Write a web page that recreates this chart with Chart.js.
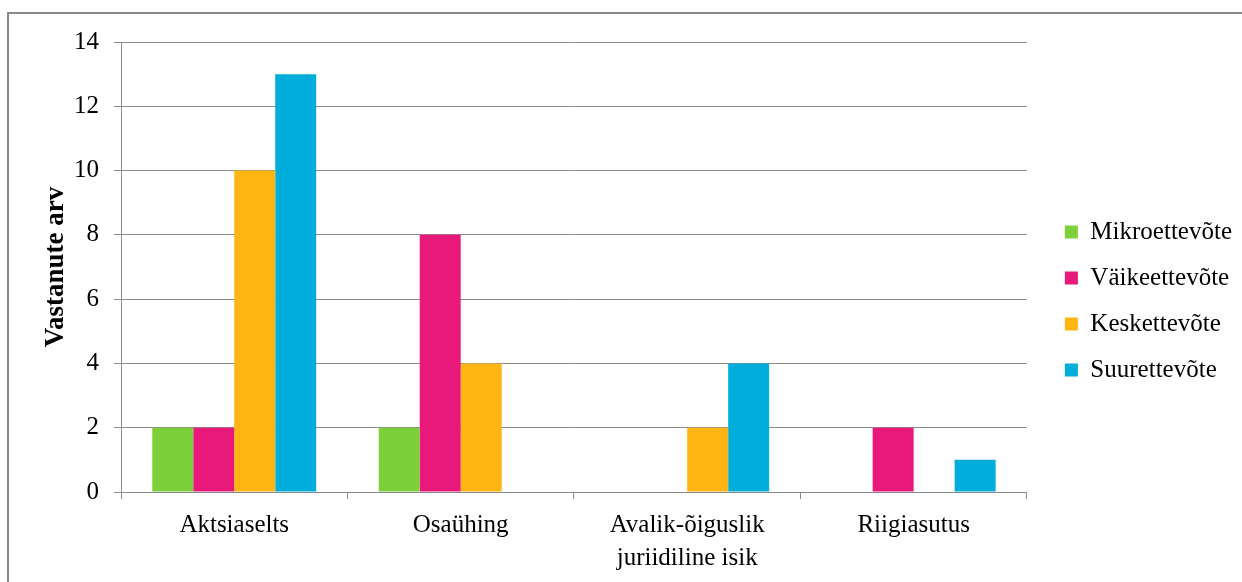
<!DOCTYPE html>
<html>
<head>
<meta charset="utf-8">
<script src="https://cdn.jsdelivr.net/npm/chart.js@4"></script>
<style>
  html, body { margin: 0; padding: 0; background: #fff; }
  #wrap { position: relative; width: 1242px; height: 582px; overflow: hidden; }
  #frame {
    position: absolute; left: 7px; top: 12px; width: 1300px; height: 700px;
    border-top: 2px solid #888; border-left: 2px solid #888;
  }
  canvas { position: absolute; left: 0; top: 0; }
</style>
</head>
<body>
<div id="wrap">
  <canvas id="chart" width="1242" height="582"></canvas>
  <div id="frame"></div>
</div>
<script>
const categories = ['Aktsiaselts', 'Osaühing', ['Avalik-õiguslik', 'juriidiline isik'], 'Riigiasutus'];
const seriesNames = ['Mikroettevõte', 'Väikeettevõte', 'Keskettevõte', 'Suurettevõte'];
const mikro = [2, 2, 0, 0];
const vaike = [2, 8, 0, 2];
const keske = [10, 4, 2, 0];
const suur = [13, 0, 4, 1];
const yTicks = [0, 2, 4, 6, 8, 10, 12, 14];

const COLORS = ['#7ed03b', '#e9187b', '#ffb612', '#00addb'];
const GRID = '#8c8c8c';
const FONT = 'Liberation Serif, Times New Roman, serif';

const data = {
  labels: categories,
  datasets: [mikro, vaike, keske, suur].map((values, i) => ({
    label: seriesNames[i],
    data: values,
    backgroundColor: COLORS[i],
    borderWidth: 0,
    barPercentage: 1,
    categoryPercentage: 0.724,
  })),
};

const options = {
  responsive: false,
  animation: false,
  layout: { padding: { top: 42, left: 30, right: 0, bottom: 0 } },
  plugins: {
    tooltip: { enabled: false },
    legend: {
      position: 'right',
      fullSize: false,
      // empty title only pushes the entries down a bit
      title: { display: true, text: ' ', padding: { top: 58, bottom: 0 }, font: { size: 10, lineHeight: 1 } },
      labels: {
        boxWidth: 13,
        boxHeight: 13,
        padding: 21,
        color: '#000',
        font: { family: FONT, size: 25 },
      },
      onClick: null,
    },
  },
  scales: {
    x: {
      grid: { display: true, drawOnChartArea: false, color: GRID, tickLength: 7, offset: true },
      border: { display: true, color: GRID },
      ticks: {
        color: '#000',
        padding: 10,
        maxRotation: 0,
        autoSkip: false,
        font: { family: FONT, size: 25, lineHeight: 1.32 },
      },
      afterFit(scale) { scale.height = 90; },
    },
    y: {
      min: 0,
      max: 14,
      afterBuildTicks(scale) { scale.ticks = yTicks.map((v) => ({ value: v })); },
      grid: { color: GRID, tickLength: 7 },
      border: { display: true, color: GRID },
      ticks: {
        color: '#000',
        padding: 15,
        font: { family: FONT, size: 25 },
      },
      title: {
        display: true,
        text: 'Vastanute arv',
        color: '#000',
        padding: { top: 10, bottom: 0 },
        font: { family: FONT, size: 27, weight: 'bold' },
      },
      afterFit(scale) { scale.width = 91; },
    },
    spacer: {
      position: 'right',
      display: true,
      grid: { display: false, drawTicks: false },
      border: { display: false },
      ticks: { display: false },
      afterFit(scale) { scale.width = 17; },
    },
  },
};

new Chart(document.getElementById('chart'), { type: 'bar', data, options });
</script>
</body>
</html>
